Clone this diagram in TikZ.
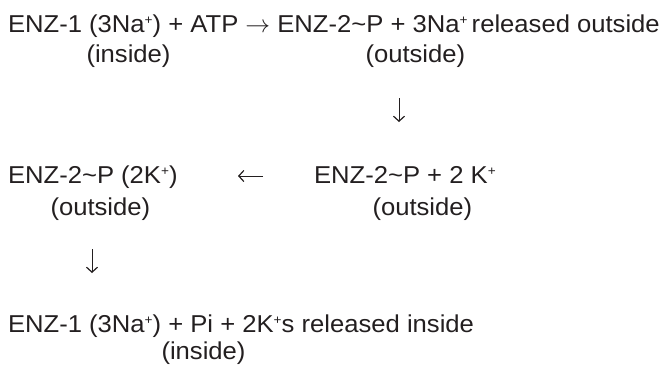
\documentclass[tikz,border=0pt]{standalone}
\usepackage{fontspec}
\setmainfont[FakeStretch=1.05]{Liberation Sans}
\usetikzlibrary{arrows.meta}
\definecolor{ink}{HTML}{231F20}
\newcommand{\plusup}{\raisebox{7.5bp}{\fontsize{13}{13}\selectfont +}}
\tikzset{
  txt/.style={anchor=base west, inner sep=0pt, outer sep=0pt, text=ink, font=\fontsize{24.5}{28}\selectfont},
  arr/.style={draw=ink, line width=1bp, -{Straight Barb[length=5bp,width=11bp,line width=1.2bp]}}
}
\begin{document}
\begin{tikzpicture}[x=1bp,y=-1bp]
\useasboundingbox (0,0) rectangle (667,364);
% row 1
\node[txt] (r1) at (8,32) {ENZ-1 (3Na\plusup) + ATP $\rightarrow$ ENZ-2\char`\~P + 3Na\plusup\,released outside};
\node[txt] (r1a) at (86.5,62) {(inside)};
\node[txt] (r1b) at (365.5,62) {(outside)};
% row 2
\node[txt] (r2l) at (8,183) {ENZ-2\char`\~P (2K\plusup)};
\node[txt] (r2la) at (50.5,215) {(outside)};
\node[txt] (r2r) at (314,183) {ENZ-2\char`\~P + 2 K\plusup};
\node[txt] (r2ra) at (372.5,215) {(outside)};
% row 3
\node[txt] (r3) at (8,332) {ENZ-1 (3Na\plusup) + Pi + 2K\plusup s released inside};
\node[txt] (r3a) at (161.5,359) {(inside)};
% connectors
\coordinate (d1s) at (399,98);
\coordinate (d1e) at (399,122);
\coordinate (l1s) at (263,176);
\coordinate (l1e) at (238,176);
\coordinate (d2s) at (92,249);
\coordinate (d2e) at (92,273);
\draw[arr] (d1s) -- (d1e);
\draw[arr] (l1s) -- (l1e);
\draw[arr] (d2s) -- (d2e);
\end{tikzpicture}
\end{document}
